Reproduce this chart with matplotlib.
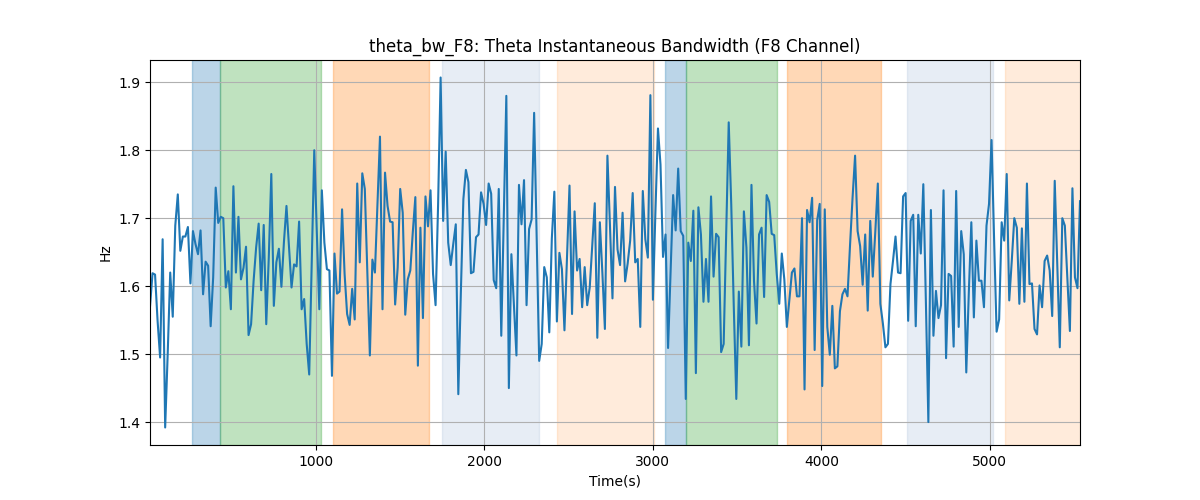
import numpy as np
import matplotlib
matplotlib.use('Agg')
import matplotlib.pyplot as plt

# Theta bandwidth values (one sample every 15 s)
bw_part1 = [1.57, 1.619, 1.617, 1.549, 1.495, 1.669, 1.392, 1.500, 1.620, 1.555,
            1.689, 1.735, 1.652, 1.673, 1.673, 1.687, 1.604, 1.681, 1.662, 1.647,
            1.682, 1.588, 1.636, 1.630, 1.541, 1.613, 1.745, 1.693, 1.702, 1.700,
            1.598, 1.622, 1.566, 1.747, 1.620, 1.702, 1.610, 1.627, 1.658, 1.528,
            1.544, 1.608, 1.657, 1.692, 1.594, 1.690, 1.544, 1.642, 1.765, 1.571,
            1.635, 1.655, 1.599]
bw_part2 = [1.665, 1.718, 1.657, 1.598, 1.632, 1.629, 1.695, 1.566, 1.581, 1.515, 1.470,
            1.635, 1.800, 1.68, 1.566, 1.741, 1.664, 1.625, 1.623, 1.468, 1.648,
            1.589, 1.592, 1.713, 1.618, 1.559, 1.543, 1.596, 1.551, 1.751, 1.635,
            1.766, 1.743, 1.62, 1.498, 1.639, 1.620, 1.72, 1.820, 1.566, 1.767,
            1.718, 1.695, 1.694, 1.573, 1.627, 1.743, 1.708, 1.558, 1.610, 1.623,
            1.68, 1.731]
bw_part3 = [1.483, 1.686, 1.553, 1.732, 1.688, 1.741, 1.618, 1.572, 1.72, 1.907,
            1.696, 1.798, 1.664, 1.631, 1.662, 1.691, 1.441, 1.59, 1.728, 1.771,
            1.753, 1.619, 1.621, 1.672, 1.676, 1.738, 1.721, 1.690, 1.751, 1.736,
            1.609, 1.597, 1.743, 1.527, 1.70, 1.880, 1.450, 1.647, 1.574, 1.498,
            1.749, 1.691, 1.756, 1.572, 1.684, 1.698, 1.855, 1.67, 1.490, 1.515,
            1.628, 1.613, 1.532]
bw_part4 = [1.67, 1.739, 1.548, 1.649, 1.625, 1.535, 1.64, 1.748, 1.559, 1.710,
            1.623, 1.640, 1.569, 1.628, 1.572, 1.598, 1.66, 1.722, 1.524, 1.694,
            1.62, 1.537, 1.792, 1.69, 1.582, 1.746, 1.654, 1.631, 1.708, 1.607,
            1.633, 1.667, 1.737, 1.635, 1.640, 1.540, 1.740, 1.669, 1.642, 1.881,
            1.580, 1.71, 1.832, 1.779, 1.643, 1.676, 1.509, 1.62, 1.734, 1.682,
            1.773, 1.681, 1.674]
bw_part5 = [1.434, 1.664, 1.637, 1.711, 1.472, 1.716, 1.676, 1.577, 1.640, 1.577,
            1.732, 1.614, 1.677, 1.672, 1.503, 1.515, 1.68, 1.841, 1.72, 1.57,
            1.434, 1.592, 1.511, 1.710, 1.657, 1.513, 1.749, 1.608, 1.545, 1.676,
            1.686, 1.584, 1.734, 1.724, 1.677, 1.675, 1.618, 1.574, 1.648, 1.610,
            1.540, 1.58, 1.620, 1.626, 1.585, 1.585, 1.700, 1.448, 1.712, 1.694,
            1.730, 1.506]
bw_part6 = [1.697, 1.721, 1.453, 1.713, 1.540, 1.499, 1.571, 1.479, 1.482, 1.563,
            1.588, 1.596, 1.585, 1.66, 1.73, 1.792, 1.681, 1.659, 1.602, 1.676,
            1.564, 1.696, 1.614, 1.68, 1.751, 1.574, 1.545, 1.510, 1.515, 1.603,
            1.637, 1.673, 1.620, 1.619, 1.732, 1.737, 1.549, 1.696, 1.705, 1.541,
            1.705, 1.648, 1.750, 1.58, 1.400, 1.712, 1.527, 1.593, 1.553, 1.572,
            1.741, 1.494, 1.618]
bw_part7 = [1.615, 1.511, 1.740, 1.540, 1.681, 1.647, 1.473, 1.59, 1.694, 1.554,
            1.667, 1.608, 1.608, 1.569, 1.689, 1.721, 1.815, 1.67, 1.533, 1.551,
            1.694, 1.667, 1.765, 1.579, 1.637, 1.700, 1.686, 1.574, 1.685, 1.577,
            1.751, 1.603, 1.604, 1.537, 1.529, 1.601, 1.569, 1.637, 1.645, 1.623,
            1.556, 1.755, 1.63, 1.510, 1.700, 1.689, 1.61, 1.534, 1.744, 1.613,
            1.597, 1.725]

bandwidth = np.array(bw_part1 + bw_part2 + bw_part3 + bw_part4 +
                     bw_part5 + bw_part6 + bw_part7)
t_start = 15
t_step = 15
time = t_start + t_step * np.arange(len(bandwidth))

# shaded segments: (start, end, colour, alpha)
span_starts = [263, 431, 1099, 1748, 2429, 3074, 3194, 3798, 4509, 5090]
span_ends = [431, 1032, 1673, 2326, 3005, 3194, 3736, 4354, 5017, 5600]
span_colors = ['C0', 'C2', 'C1', 'lightsteelblue', 'C1',
               'C0', 'C2', 'C1', 'lightsteelblue', 'C1']
span_alphas = [0.3, 0.3, 0.3, 0.3, 0.15, 0.3, 0.3, 0.3, 0.3, 0.15]

plt.figure(figsize=(12, 5), dpi=100)
for s, e, c, a in zip(span_starts, span_ends, span_colors, span_alphas):
    plt.axvspan(s, e, color=c, alpha=a)
plt.plot(time, bandwidth, color='C0')
plt.xlim(time[0], time[-1])
plt.title('theta_bw_F8: Theta Instantaneous Bandwidth (F8 Channel)')
plt.xlabel('Time(s)')
plt.ylabel('Hz')
plt.grid(True)

plt.savefig('out.png')
